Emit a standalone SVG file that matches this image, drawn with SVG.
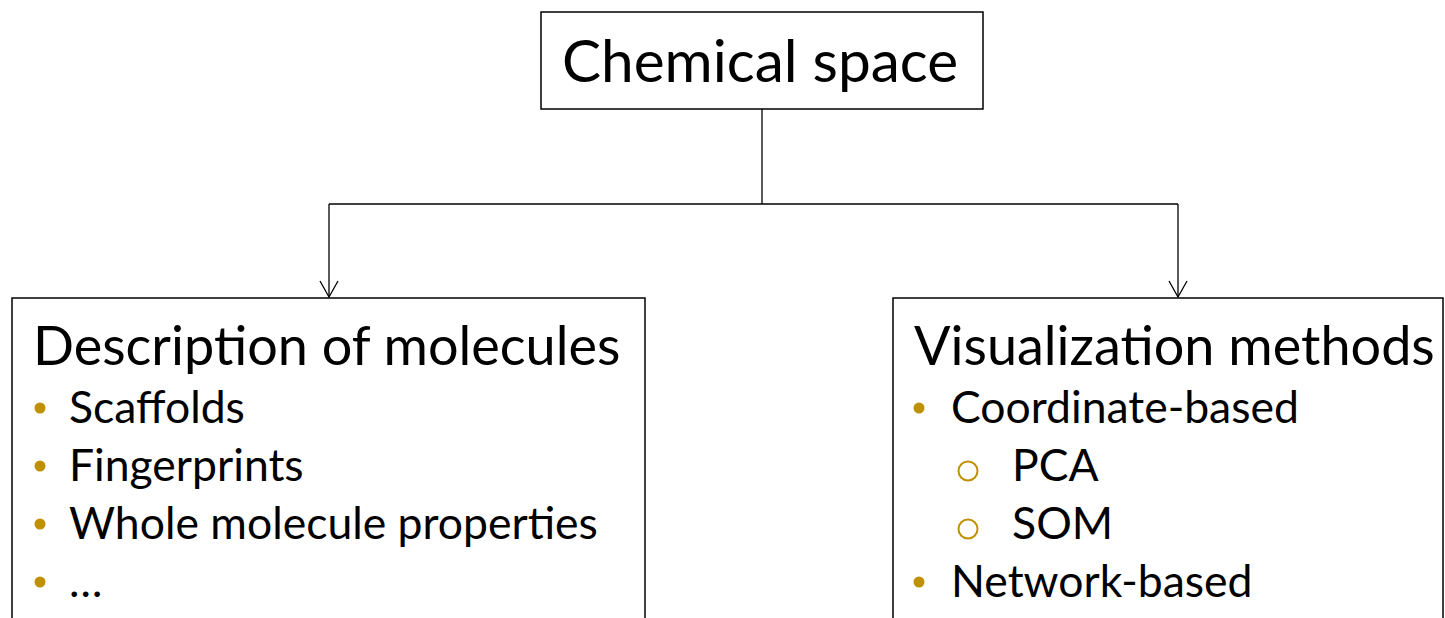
<svg xmlns="http://www.w3.org/2000/svg" width="1445" height="618" viewBox="0 0 1445 618">
<style>
.box{fill:#fff;stroke:#000;stroke-width:1.5}
.t{font-family:Lato,"Liberation Sans",sans-serif;fill:#000}
.h{font-size:54px}
.i{font-size:44.5px}
.dot{fill:#BF9000}
.ring{fill:none;stroke:#BF9000;stroke-width:2}
.c{fill:none;stroke:#000;stroke-width:1.3}
</style>
<defs>
<marker id="arr" markerWidth="24" markerHeight="20" refX="12" refY="18" orient="0" markerUnits="userSpaceOnUse">
<path d="M3 2 L12 18 L21 2" fill="none" stroke="#000" stroke-width="1.3"/>
</marker>
</defs>
<g id="connectors">
<path class="c" d="M762 109 V204"/>
<path class="c" d="M329 204 H1178"/>
<path class="c" d="M329 204 V297" marker-end="url(#arr)"/>
<path class="c" d="M1178 204 V297" marker-end="url(#arr)"/>
</g>
<g id="root">
<rect class="box" x="541" y="12" width="442" height="97"/>
<text class="t" x="562" y="82" font-size="58.5">Chemical space</text>
</g>
<g id="description">
<rect class="box" x="12" y="298" width="633" height="340"/>
<text class="t h" x="33" y="365">Description of molecules</text>
<circle class="dot" cx="40" cy="408" r="5.5"/>
<text class="t i" x="69" y="423">Scaffolds</text>
<circle class="dot" cx="40" cy="466" r="5.5"/>
<text class="t i" x="69" y="481">Fingerprints</text>
<circle class="dot" cx="40" cy="524" r="5.5"/>
<text class="t i" x="69" y="539">Whole molecule properties</text>
<circle class="dot" cx="40" cy="582" r="5.5"/>
<text class="t i" x="69" y="597">…</text>
</g>
<g id="visualization">
<rect class="box" x="893" y="298" width="550" height="340"/>
<text class="t h" x="914" y="365">Visualization methods</text>
<circle class="dot" cx="919" cy="408" r="5.5"/>
<text class="t i" x="951" y="423">Coordinate-based</text>
<circle class="ring" cx="968" cy="471" r="9.5"/>
<text class="t i" x="1012" y="481">PCA</text>
<circle class="ring" cx="968" cy="529" r="9.5"/>
<text class="t i" x="1012" y="539">SOM</text>
<circle class="dot" cx="919" cy="582" r="5.5"/>
<text class="t i" x="951" y="597">Network-based</text>
</g>
</svg>
